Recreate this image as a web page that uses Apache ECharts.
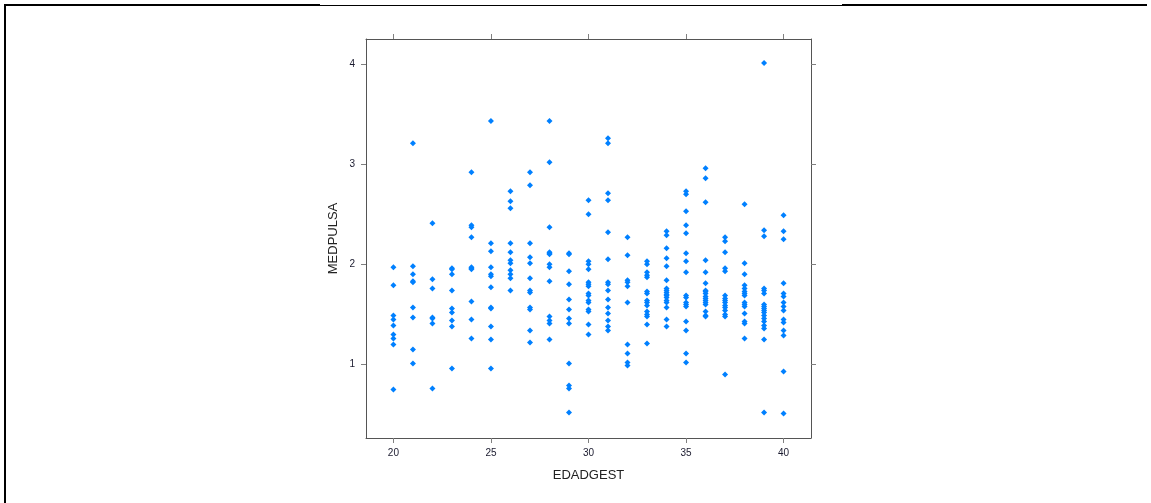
<!DOCTYPE html>
<html>
<head>
<meta charset="utf-8">
<script src="https://cdn.jsdelivr.net/npm/echarts@6/dist/echarts.min.js"></script>
<style>
html,body{margin:0;padding:0;background:#fff;}
#chart{width:1151px;height:503px;}
</style>
</head>
<body>
<div id="chart"></div>
<script>
// EDADGEST values (x) and MEDPULSA values (y) grouped by age
const edadgest = [20,21,22,23,24,25,26,27,28,29,30,31,32,33,34,35,36,37,38,39,40];
const medpulsa = [
  [1.97,1.79,1.49,1.45,1.39,1.30,1.26,1.20,0.75],
  [3.21,1.98,1.90,1.83,1.82,1.57,1.47,1.15,1.01],
  [2.41,1.85,1.76,1.47,1.46,1.41,0.76],
  [1.96,1.95,1.90,1.74,1.56,1.52,1.44,1.38,0.96],
  [2.92,2.39,2.37,2.27,1.97,1.96,1.95,1.63,1.45,1.26],
  [3.43,2.21,2.13,1.97,1.90,1.88,1.77,1.57,1.56,1.38,1.25,0.96],
  [2.73,2.63,2.56,2.21,2.12,2.04,2.01,1.94,1.90,1.86,1.74],
  [2.92,2.79,2.21,2.07,2.01,1.86,1.74,1.72,1.57,1.55,1.34,1.22],
  [3.43,3.02,2.37,2.12,2.11,2.10,2.00,1.97,1.83,1.48,1.44,1.41,1.25],
  [2.11,2.10,1.93,1.80,1.65,1.55,1.46,1.41,1.01,0.79,0.76,0.52],
  [2.64,2.50,2.03,2.00,1.95,1.82,1.80,1.78,1.71,1.69,1.64,1.62,1.55,1.53,1.40,1.30],
  [3.26,3.21,2.71,2.64,2.32,2.05,1.82,1.80,1.74,1.65,1.57,1.51,1.44,1.38,1.34],
  [2.27,2.09,1.84,1.82,1.78,1.62,1.20,1.11,1.02,0.99],
  [2.03,2.00,1.92,1.89,1.87,1.73,1.71,1.64,1.62,1.59,1.53,1.50,1.48,1.40,1.21],
  [2.33,2.29,2.16,2.06,1.98,1.84,1.76,1.74,1.72,1.70,1.69,1.67,1.64,1.62,1.57,1.45,1.38],
  [2.73,2.70,2.53,2.39,2.31,2.11,2.03,1.92,1.69,1.67,1.62,1.60,1.58,1.43,1.34,1.11,1.02],
  [2.96,2.86,2.62,2.04,1.92,1.81,1.74,1.73,1.71,1.68,1.66,1.64,1.62,1.60,1.53,1.49,1.48],
  [2.27,2.23,2.12,1.96,1.93,1.69,1.66,1.64,1.62,1.59,1.57,1.54,1.50,1.48,0.90],
  [2.60,2.01,1.90,1.79,1.76,1.73,1.71,1.69,1.62,1.60,1.58,1.51,1.43,1.41,1.26],
  [4.01,2.34,2.28,1.76,1.74,1.71,1.60,1.58,1.56,1.54,1.52,1.49,1.46,1.43,1.39,1.36,1.25,0.52],
  [2.49,2.33,2.25,1.81,1.71,1.68,1.62,1.58,1.54,1.45,1.42,1.34,1.29,0.93,0.51]
];
const xTicks = [20,25,30,35,40];
const yTicks = [1,2,3,4];
const xName = 'EDADGEST';
const yName = 'MEDPULSA';

const points = [];
edadgest.forEach((x, i) => medpulsa[i].forEach(y => points.push([x, y])));

const xMin = 18.595, xMax = 41.405, yMin = 0.266, yMax = 4.25;
const boxColor = '#555555', tickColor = '#808080';
const font = 'Liberation Sans, Arial, sans-serif';

function xAxisDef(pos, showLabel) {
  return {
    type: 'value', position: pos, min: xMin, max: xMax,
    splitLine: {show: false},
    axisLine: {show: true, onZero: false, lineStyle: {color: boxColor, width: 1}},
    axisTick: {show: true, inside: false, length: 5, customValues: xTicks, lineStyle: {color: tickColor}},
    axisLabel: {show: showLabel, customValues: xTicks, margin: 10, color: '#1a1a2e', fontSize: 10, fontFamily: font},
    name: showLabel ? xName : '', nameLocation: 'middle', nameGap: 31,
    nameTextStyle: {color: '#222', fontSize: 13, fontFamily: font}
  };
}
function yAxisDef(pos, showLabel) {
  return {
    type: 'value', position: pos, min: yMin, max: yMax,
    splitLine: {show: false},
    axisLine: {show: true, onZero: false, lineStyle: {color: boxColor, width: 1}},
    axisTick: {show: true, inside: false, length: 5, customValues: yTicks, lineStyle: {color: tickColor}},
    axisLabel: {show: showLabel, customValues: yTicks, margin: 11, color: '#1a1a2e', fontSize: 10, fontFamily: font},
    name: showLabel ? yName : '', nameLocation: 'middle', nameGap: 26, nameRotate: 90,
    nameTextStyle: {color: '#222', fontSize: 13, fontFamily: font}
  };
}

const chart = echarts.init(document.getElementById('chart'), null, {renderer: 'canvas'});
chart.setOption({
  animation: false,
  backgroundColor: '#ffffff',
  grid: {left: 366, top: 39, width: 445, height: 399, containLabel: false},
  xAxis: [xAxisDef('bottom', true), xAxisDef('top', false)],
  yAxis: [yAxisDef('left', true), yAxisDef('right', false)],
  series: [{
    type: 'scatter',
    xAxisIndex: 0, yAxisIndex: 0,
    data: points,
    symbol: 'diamond',
    symbolSize: 6,
    itemStyle: {color: '#0080ff', opacity: 1},
    silent: true
  }],
  graphic: [
    {type: 'line', shape: {x1: 5, y1: 4, x2: 5, y2: 503}, style: {stroke: '#000', lineWidth: 2}},
    {type: 'line', shape: {x1: 4, y1: 5, x2: 320, y2: 5}, style: {stroke: '#000', lineWidth: 2}},
    {type: 'line', shape: {x1: 320, y1: 5.5, x2: 842, y2: 5.5}, style: {stroke: '#000', lineWidth: 1}},
    {type: 'line', shape: {x1: 842, y1: 5, x2: 1147, y2: 5}, style: {stroke: '#000', lineWidth: 2}}
  ]
});
</script>
</body>
</html>
